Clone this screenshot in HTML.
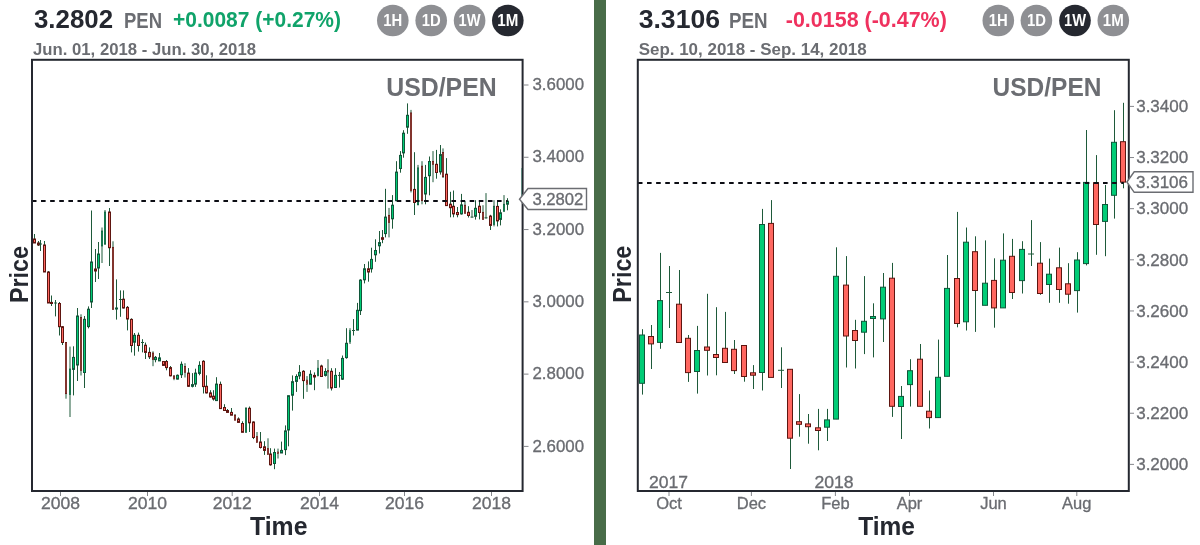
<!DOCTYPE html><html><head><meta charset="utf-8"><style>html,body{margin:0;padding:0;background:#fff;width:1200px;height:545px;overflow:hidden}svg{display:block;will-change:transform;font-family:"Liberation Sans",sans-serif}</style></head><body>
<svg width="1200" height="545" viewBox="0 0 1200 545">
<defs><clipPath id="cl"><rect x="33" y="61" width="489" height="429"/></clipPath><clipPath id="cr"><rect x="638.5" y="61" width="490" height="429"/></clipPath></defs>
<rect width="1200" height="545" fill="#fff"/>
<rect x="594" y="0" width="12" height="545" fill="#486c48"/>
<text x="34" y="28" font-size="25" fill="#252830" font-weight="bold" text-anchor="start" textLength="79" lengthAdjust="spacingAndGlyphs">3.2802</text>
<text x="124" y="28" font-size="21.5" fill="#6b6d72" font-weight="bold" text-anchor="start" textLength="38" lengthAdjust="spacingAndGlyphs">PEN</text>
<text x="173" y="26.7" font-size="21.5" fill="#10a36a" font-weight="bold" text-anchor="start" textLength="168" lengthAdjust="spacingAndGlyphs">+0.0087 (+0.27%)</text>
<text x="33" y="54.6" font-size="16.5" fill="#6b6d72" font-weight="bold" text-anchor="start" textLength="223" lengthAdjust="spacingAndGlyphs">Jun. 01, 2018 - Jun. 30, 2018</text>
<circle cx="392.8" cy="20.5" r="15.8" fill="#8e8f93"/>
<text x="392.8" y="26.3" font-size="16.5" fill="#ffffff" font-weight="bold" text-anchor="middle" textLength="19" lengthAdjust="spacingAndGlyphs">1H</text>
<circle cx="431.2" cy="20.5" r="15.8" fill="#8e8f93"/>
<text x="431.2" y="26.3" font-size="16.5" fill="#ffffff" font-weight="bold" text-anchor="middle" textLength="19" lengthAdjust="spacingAndGlyphs">1D</text>
<circle cx="469.6" cy="20.5" r="15.8" fill="#8e8f93"/>
<text x="469.6" y="26.3" font-size="16.5" fill="#ffffff" font-weight="bold" text-anchor="middle" textLength="22" lengthAdjust="spacingAndGlyphs">1W</text>
<circle cx="507.8" cy="20.5" r="15.8" fill="#252830"/>
<text x="507.8" y="26.3" font-size="16.5" fill="#ffffff" font-weight="bold" text-anchor="middle" textLength="21" lengthAdjust="spacingAndGlyphs">1M</text>
<text x="386.2" y="96.3" font-size="26" fill="#6b6d72" font-weight="bold" text-anchor="start" textLength="110.5" lengthAdjust="spacingAndGlyphs">USD/PEN</text>
<line x1="524" y1="85.00" x2="528.5" y2="85.00" stroke="#85878c" stroke-width="1"/>
<text x="532.5" y="90.2" font-size="16.5" fill="#6b6d72" font-weight="normal" text-anchor="start" textLength="51.5" lengthAdjust="spacingAndGlyphs" stroke="#65676c" stroke-width="0.3">3.6000</text>
<line x1="524" y1="157.28" x2="528.5" y2="157.28" stroke="#85878c" stroke-width="1"/>
<text x="532.5" y="162.48" font-size="16.5" fill="#6b6d72" font-weight="normal" text-anchor="start" textLength="51.5" lengthAdjust="spacingAndGlyphs" stroke="#65676c" stroke-width="0.3">3.4000</text>
<line x1="524" y1="229.56" x2="528.5" y2="229.56" stroke="#85878c" stroke-width="1"/>
<text x="532.5" y="234.76" font-size="16.5" fill="#6b6d72" font-weight="normal" text-anchor="start" textLength="51.5" lengthAdjust="spacingAndGlyphs" stroke="#65676c" stroke-width="0.3">3.2000</text>
<line x1="524" y1="301.84" x2="528.5" y2="301.84" stroke="#85878c" stroke-width="1"/>
<text x="532.5" y="307.04" font-size="16.5" fill="#6b6d72" font-weight="normal" text-anchor="start" textLength="51.5" lengthAdjust="spacingAndGlyphs" stroke="#65676c" stroke-width="0.3">3.0000</text>
<line x1="524" y1="374.12" x2="528.5" y2="374.12" stroke="#85878c" stroke-width="1"/>
<text x="532.5" y="379.32" font-size="16.5" fill="#6b6d72" font-weight="normal" text-anchor="start" textLength="51.5" lengthAdjust="spacingAndGlyphs" stroke="#65676c" stroke-width="0.3">2.8000</text>
<line x1="524" y1="446.40" x2="528.5" y2="446.40" stroke="#85878c" stroke-width="1"/>
<text x="532.5" y="451.59999999999997" font-size="16.5" fill="#6b6d72" font-weight="normal" text-anchor="start" textLength="51.5" lengthAdjust="spacingAndGlyphs" stroke="#65676c" stroke-width="0.3">2.6000</text>
<line x1="60.5" y1="492" x2="60.5" y2="496" stroke="#85878c" stroke-width="1"/>
<text x="60.5" y="509" font-size="16.5" fill="#6b6d72" font-weight="normal" text-anchor="middle" textLength="39" lengthAdjust="spacingAndGlyphs" stroke="#65676c" stroke-width="0.3">2008</text>
<line x1="147.5" y1="492" x2="147.5" y2="496" stroke="#85878c" stroke-width="1"/>
<text x="147.5" y="509" font-size="16.5" fill="#6b6d72" font-weight="normal" text-anchor="middle" textLength="39" lengthAdjust="spacingAndGlyphs" stroke="#65676c" stroke-width="0.3">2010</text>
<line x1="232.2" y1="492" x2="232.2" y2="496" stroke="#85878c" stroke-width="1"/>
<text x="232.2" y="509" font-size="16.5" fill="#6b6d72" font-weight="normal" text-anchor="middle" textLength="39" lengthAdjust="spacingAndGlyphs" stroke="#65676c" stroke-width="0.3">2012</text>
<line x1="319.5" y1="492" x2="319.5" y2="496" stroke="#85878c" stroke-width="1"/>
<text x="319.5" y="509" font-size="16.5" fill="#6b6d72" font-weight="normal" text-anchor="middle" textLength="39" lengthAdjust="spacingAndGlyphs" stroke="#65676c" stroke-width="0.3">2014</text>
<line x1="404.5" y1="492" x2="404.5" y2="496" stroke="#85878c" stroke-width="1"/>
<text x="404.5" y="509" font-size="16.5" fill="#6b6d72" font-weight="normal" text-anchor="middle" textLength="39" lengthAdjust="spacingAndGlyphs" stroke="#65676c" stroke-width="0.3">2016</text>
<line x1="491.5" y1="492" x2="491.5" y2="496" stroke="#85878c" stroke-width="1"/>
<text x="491.5" y="509" font-size="16.5" fill="#6b6d72" font-weight="normal" text-anchor="middle" textLength="39" lengthAdjust="spacingAndGlyphs" stroke="#65676c" stroke-width="0.3">2018</text>
<text x="250" y="535" font-size="25" fill="#252830" font-weight="bold" text-anchor="start" textLength="57.5" lengthAdjust="spacingAndGlyphs">Time</text>
<text x="0" y="0" font-size="25" fill="#252830" font-weight="bold" textLength="57" lengthAdjust="spacingAndGlyphs" transform="translate(27.5,303) rotate(-90)">Price</text>
<g clip-path="url(#cl)">
<line x1="34.5" y1="234" x2="34.5" y2="243" stroke="#1e5a3a" stroke-width="1"/>
<rect x="33.5" y="239" width="2" height="4.00" fill="#ff6760" stroke="#5e1510" stroke-width="1"/>
<line x1="38.5" y1="241" x2="38.5" y2="246" stroke="#1e5a3a" stroke-width="1"/>
<rect x="37.5" y="243" width="2" height="2.00" fill="#ff6760" stroke="#5e1510" stroke-width="1"/>
<line x1="40.5" y1="240" x2="40.5" y2="251" stroke="#1e5a3a" stroke-width="1"/>
<line x1="39" y1="244" x2="42" y2="244" stroke="#1e5a3a" stroke-width="1"/>
<line x1="44.5" y1="241" x2="44.5" y2="272" stroke="#1e5a3a" stroke-width="1"/>
<rect x="43.5" y="245" width="2" height="27.00" fill="#ff6760" stroke="#5e1510" stroke-width="1"/>
<line x1="48.5" y1="271" x2="48.5" y2="303" stroke="#1e5a3a" stroke-width="1"/>
<rect x="47.5" y="272" width="2" height="31.00" fill="#ff6760" stroke="#5e1510" stroke-width="1"/>
<line x1="51.5" y1="295.5" x2="51.5" y2="306" stroke="#1e5a3a" stroke-width="1"/>
<rect x="50.5" y="302.4" width="2" height="1.10" fill="#ff6760" stroke="#5e1510" stroke-width="1"/>
<line x1="55.5" y1="300" x2="55.5" y2="316.4" stroke="#1e5a3a" stroke-width="1"/>
<line x1="54" y1="303" x2="57" y2="303" stroke="#1e5a3a" stroke-width="1"/>
<line x1="59.5" y1="302" x2="59.5" y2="335.5" stroke="#1e5a3a" stroke-width="1"/>
<rect x="58.5" y="303.5" width="2" height="23.20" fill="#ff6760" stroke="#5e1510" stroke-width="1"/>
<line x1="62.5" y1="326" x2="62.5" y2="345" stroke="#1e5a3a" stroke-width="1"/>
<rect x="61.5" y="326.7" width="2" height="15.80" fill="#ff6760" stroke="#5e1510" stroke-width="1"/>
<line x1="66" y1="342" x2="66" y2="398.7" stroke="#1e5a3a" stroke-width="1"/>
<rect x="65.35" y="342.5" width="1.3" height="51.20" fill="#ff6760" stroke="#5e1510" stroke-width="0.7"/>
<line x1="70" y1="346.6" x2="70" y2="417" stroke="#1e5a3a" stroke-width="1"/>
<rect x="69.35" y="369" width="1.3" height="25.50" fill="#00cc76" stroke="#10573a" stroke-width="0.7"/>
<line x1="73.5" y1="346.3" x2="73.5" y2="395.4" stroke="#1e5a3a" stroke-width="1"/>
<rect x="72.5" y="357.4" width="2" height="12.00" fill="#00cc76" stroke="#10573a" stroke-width="1"/>
<line x1="77.5" y1="308" x2="77.5" y2="381" stroke="#1e5a3a" stroke-width="1"/>
<rect x="76.5" y="316" width="2" height="49.00" fill="#00cc76" stroke="#10573a" stroke-width="1"/>
<line x1="81" y1="314.3" x2="81" y2="375.5" stroke="#1e5a3a" stroke-width="1"/>
<rect x="80.35" y="317.4" width="1.3" height="53.20" fill="#ff6760" stroke="#5e1510" stroke-width="0.7"/>
<line x1="84.5" y1="316" x2="84.5" y2="388" stroke="#1e5a3a" stroke-width="1"/>
<rect x="83.5" y="319.3" width="2" height="53.20" fill="#00cc76" stroke="#10573a" stroke-width="1"/>
<line x1="88.5" y1="306.4" x2="88.5" y2="328.4" stroke="#1e5a3a" stroke-width="1"/>
<rect x="87.5" y="309.2" width="2" height="17.40" fill="#00cc76" stroke="#10573a" stroke-width="1"/>
<line x1="91.5" y1="210.5" x2="91.5" y2="308" stroke="#1e5a3a" stroke-width="1"/>
<rect x="90.5" y="262" width="2" height="40.00" fill="#00cc76" stroke="#10573a" stroke-width="1"/>
<line x1="95.5" y1="249" x2="95.5" y2="282" stroke="#1e5a3a" stroke-width="1"/>
<rect x="94.5" y="269" width="2" height="2.00" fill="#ff6760" stroke="#5e1510" stroke-width="1"/>
<line x1="98.5" y1="242" x2="98.5" y2="279" stroke="#1e5a3a" stroke-width="1"/>
<rect x="97.5" y="254" width="2" height="14.00" fill="#00cc76" stroke="#10573a" stroke-width="1"/>
<line x1="102" y1="227.5" x2="102" y2="263" stroke="#1e5a3a" stroke-width="1"/>
<rect x="101.35" y="231" width="1.3" height="15.00" fill="#00cc76" stroke="#10573a" stroke-width="0.7"/>
<line x1="105" y1="210" x2="105" y2="245" stroke="#1e5a3a" stroke-width="1"/>
<rect x="104.35" y="212" width="1.3" height="32.00" fill="#00cc76" stroke="#10573a" stroke-width="0.7"/>
<line x1="109.5" y1="208" x2="109.5" y2="266" stroke="#1e5a3a" stroke-width="1"/>
<rect x="108.5" y="212" width="2" height="35.70" fill="#ff6760" stroke="#5e1510" stroke-width="1"/>
<line x1="113" y1="241.3" x2="113" y2="309.4" stroke="#1e5a3a" stroke-width="1"/>
<rect x="112.35" y="247.3" width="1.3" height="62.10" fill="#ff6760" stroke="#5e1510" stroke-width="0.7"/>
<line x1="116.5" y1="279.4" x2="116.5" y2="319.6" stroke="#1e5a3a" stroke-width="1"/>
<rect x="115.5" y="308" width="2" height="1.00" fill="#00cc76" stroke="#10573a" stroke-width="1"/>
<line x1="120.5" y1="290.4" x2="120.5" y2="316.8" stroke="#1e5a3a" stroke-width="1"/>
<line x1="119" y1="299.5" x2="122" y2="299.5" stroke="#1e5a3a" stroke-width="1"/>
<line x1="123.5" y1="290.4" x2="123.5" y2="308.5" stroke="#1e5a3a" stroke-width="1"/>
<rect x="122.5" y="299.2" width="2" height="8.80" fill="#ff6760" stroke="#5e1510" stroke-width="1"/>
<line x1="127.5" y1="306" x2="127.5" y2="330.4" stroke="#1e5a3a" stroke-width="1"/>
<rect x="126.5" y="307.4" width="2" height="11.60" fill="#ff6760" stroke="#5e1510" stroke-width="1"/>
<line x1="131.5" y1="318.3" x2="131.5" y2="352.4" stroke="#1e5a3a" stroke-width="1"/>
<rect x="130.5" y="319.4" width="2" height="26.10" fill="#ff6760" stroke="#5e1510" stroke-width="1"/>
<line x1="134.5" y1="333" x2="134.5" y2="355.7" stroke="#1e5a3a" stroke-width="1"/>
<rect x="133.5" y="335.3" width="2" height="6.90" fill="#00cc76" stroke="#10573a" stroke-width="1"/>
<line x1="138.5" y1="332.6" x2="138.5" y2="351.6" stroke="#1e5a3a" stroke-width="1"/>
<rect x="137.5" y="335.3" width="2" height="10.20" fill="#ff6760" stroke="#5e1510" stroke-width="1"/>
<line x1="142.5" y1="339.2" x2="142.5" y2="352.4" stroke="#1e5a3a" stroke-width="1"/>
<line x1="141" y1="342.5" x2="144" y2="342.5" stroke="#1e5a3a" stroke-width="1"/>
<line x1="145.5" y1="342.5" x2="145.5" y2="359" stroke="#1e5a3a" stroke-width="1"/>
<rect x="144.5" y="345.2" width="2" height="7.20" fill="#ff6760" stroke="#5e1510" stroke-width="1"/>
<line x1="149.5" y1="347.4" x2="149.5" y2="359" stroke="#1e5a3a" stroke-width="1"/>
<rect x="148.5" y="352.4" width="2" height="4.40" fill="#ff6760" stroke="#5e1510" stroke-width="1"/>
<line x1="153" y1="351.3" x2="153" y2="366.2" stroke="#1e5a3a" stroke-width="1"/>
<rect x="152.35" y="353" width="1.3" height="6.60" fill="#ff6760" stroke="#5e1510" stroke-width="0.7"/>
<line x1="155.5" y1="356" x2="155.5" y2="362.3" stroke="#1e5a3a" stroke-width="1"/>
<rect x="154.5" y="357.4" width="2" height="2.20" fill="#00cc76" stroke="#10573a" stroke-width="1"/>
<line x1="159.5" y1="353" x2="159.5" y2="361" stroke="#1e5a3a" stroke-width="1"/>
<rect x="158.5" y="357.9" width="2" height="3.00" fill="#00cc76" stroke="#10573a" stroke-width="1"/>
<line x1="163.5" y1="361" x2="163.5" y2="366" stroke="#1e5a3a" stroke-width="1"/>
<rect x="162.5" y="361.5" width="2" height="3.90" fill="#ff6760" stroke="#5e1510" stroke-width="1"/>
<line x1="166.5" y1="360" x2="166.5" y2="370.3" stroke="#1e5a3a" stroke-width="1"/>
<rect x="165.5" y="361.5" width="2" height="6.10" fill="#ff6760" stroke="#5e1510" stroke-width="1"/>
<line x1="170.5" y1="366" x2="170.5" y2="376.4" stroke="#1e5a3a" stroke-width="1"/>
<rect x="169.5" y="367.6" width="2" height="8.20" fill="#ff6760" stroke="#5e1510" stroke-width="1"/>
<line x1="174" y1="375" x2="174" y2="380.2" stroke="#1e5a3a" stroke-width="1"/>
<rect x="173.35" y="376" width="1.3" height="2.60" fill="#ff6760" stroke="#5e1510" stroke-width="0.7"/>
<line x1="177.5" y1="374.5" x2="177.5" y2="379.4" stroke="#1e5a3a" stroke-width="1"/>
<rect x="176.5" y="375.3" width="2" height="3.80" fill="#00cc76" stroke="#10573a" stroke-width="1"/>
<line x1="181.5" y1="361.5" x2="181.5" y2="378" stroke="#1e5a3a" stroke-width="1"/>
<rect x="180.5" y="364.3" width="2" height="10.40" fill="#00cc76" stroke="#10573a" stroke-width="1"/>
<line x1="185" y1="363.2" x2="185" y2="377.5" stroke="#1e5a3a" stroke-width="1"/>
<rect x="184.35" y="366.5" width="1.3" height="5.80" fill="#ff6760" stroke="#5e1510" stroke-width="0.7"/>
<line x1="188.5" y1="368.1" x2="188.5" y2="387" stroke="#1e5a3a" stroke-width="1"/>
<rect x="187.5" y="373.1" width="2" height="13.20" fill="#ff6760" stroke="#5e1510" stroke-width="1"/>
<line x1="192.5" y1="373.1" x2="192.5" y2="387.4" stroke="#1e5a3a" stroke-width="1"/>
<rect x="191.5" y="384.6" width="2" height="1.70" fill="#00cc76" stroke="#10573a" stroke-width="1"/>
<line x1="195.5" y1="368.7" x2="195.5" y2="386.9" stroke="#1e5a3a" stroke-width="1"/>
<rect x="194.5" y="373.1" width="2" height="11.00" fill="#00cc76" stroke="#10573a" stroke-width="1"/>
<line x1="199.5" y1="361.3" x2="199.5" y2="375.3" stroke="#1e5a3a" stroke-width="1"/>
<rect x="198.5" y="365.4" width="2" height="8.00" fill="#00cc76" stroke="#10573a" stroke-width="1"/>
<line x1="203.5" y1="360.2" x2="203.5" y2="393.5" stroke="#1e5a3a" stroke-width="1"/>
<rect x="202.5" y="361.3" width="2" height="25.30" fill="#ff6760" stroke="#5e1510" stroke-width="1"/>
<line x1="206.5" y1="375.3" x2="206.5" y2="393.5" stroke="#1e5a3a" stroke-width="1"/>
<rect x="205.5" y="386.3" width="2" height="6.60" fill="#ff6760" stroke="#5e1510" stroke-width="1"/>
<line x1="210.5" y1="390.2" x2="210.5" y2="397.6" stroke="#1e5a3a" stroke-width="1"/>
<rect x="209.5" y="392.9" width="2" height="4.10" fill="#ff6760" stroke="#5e1510" stroke-width="1"/>
<line x1="213.5" y1="390.2" x2="213.5" y2="400.6" stroke="#1e5a3a" stroke-width="1"/>
<rect x="212.5" y="396.2" width="2" height="2.80" fill="#ff6760" stroke="#5e1510" stroke-width="1"/>
<line x1="216.5" y1="377.2" x2="216.5" y2="401" stroke="#1e5a3a" stroke-width="1"/>
<rect x="215.5" y="384.1" width="2" height="16.50" fill="#00cc76" stroke="#10573a" stroke-width="1"/>
<line x1="220.5" y1="381.6" x2="220.5" y2="408.6" stroke="#1e5a3a" stroke-width="1"/>
<rect x="219.5" y="384.4" width="2" height="24.20" fill="#ff6760" stroke="#5e1510" stroke-width="1"/>
<line x1="224.5" y1="404.2" x2="224.5" y2="410.5" stroke="#1e5a3a" stroke-width="1"/>
<rect x="223.5" y="407.5" width="2" height="3.00" fill="#ff6760" stroke="#5e1510" stroke-width="1"/>
<line x1="227.5" y1="409" x2="227.5" y2="412.4" stroke="#1e5a3a" stroke-width="1"/>
<rect x="226.5" y="410.5" width="2" height="1.90" fill="#ff6760" stroke="#5e1510" stroke-width="1"/>
<line x1="231.5" y1="408" x2="231.5" y2="415.2" stroke="#1e5a3a" stroke-width="1"/>
<rect x="230.5" y="412.4" width="2" height="2.80" fill="#ff6760" stroke="#5e1510" stroke-width="1"/>
<line x1="235" y1="414" x2="235" y2="420.2" stroke="#1e5a3a" stroke-width="1"/>
<rect x="234.35" y="415.2" width="1.3" height="5.00" fill="#ff6760" stroke="#5e1510" stroke-width="0.7"/>
<line x1="238.5" y1="417.4" x2="238.5" y2="422.4" stroke="#1e5a3a" stroke-width="1"/>
<rect x="237.5" y="419" width="2" height="3.40" fill="#ff6760" stroke="#5e1510" stroke-width="1"/>
<line x1="242.5" y1="421.3" x2="242.5" y2="432.3" stroke="#1e5a3a" stroke-width="1"/>
<rect x="241.5" y="423.5" width="2" height="8.80" fill="#ff6760" stroke="#5e1510" stroke-width="1"/>
<line x1="246" y1="407" x2="246" y2="432.3" stroke="#1e5a3a" stroke-width="1"/>
<rect x="245.35" y="408.6" width="1.3" height="23.70" fill="#00cc76" stroke="#10573a" stroke-width="0.7"/>
<line x1="249.5" y1="406.5" x2="249.5" y2="432" stroke="#1e5a3a" stroke-width="1"/>
<rect x="248.5" y="408.3" width="2" height="14.50" fill="#ff6760" stroke="#5e1510" stroke-width="1"/>
<line x1="253.5" y1="421.3" x2="253.5" y2="439.1" stroke="#1e5a3a" stroke-width="1"/>
<rect x="252.5" y="422" width="2" height="15.50" fill="#ff6760" stroke="#5e1510" stroke-width="1"/>
<line x1="257" y1="432" x2="257" y2="442.4" stroke="#1e5a3a" stroke-width="1"/>
<rect x="256.35" y="436.4" width="1.3" height="6.00" fill="#ff6760" stroke="#5e1510" stroke-width="0.7"/>
<line x1="260.5" y1="432" x2="260.5" y2="448.5" stroke="#1e5a3a" stroke-width="1"/>
<rect x="259.5" y="442" width="2" height="5.50" fill="#ff6760" stroke="#5e1510" stroke-width="1"/>
<line x1="264.5" y1="441.2" x2="264.5" y2="454.9" stroke="#1e5a3a" stroke-width="1"/>
<rect x="263.5" y="446.8" width="2" height="3.60" fill="#ff6760" stroke="#5e1510" stroke-width="1"/>
<line x1="268" y1="438.3" x2="268" y2="454.6" stroke="#1e5a3a" stroke-width="1"/>
<rect x="267.35" y="448.6" width="1.3" height="5.90" fill="#ff6760" stroke="#5e1510" stroke-width="0.7"/>
<line x1="270.5" y1="448.2" x2="270.5" y2="465.7" stroke="#1e5a3a" stroke-width="1"/>
<rect x="269.5" y="454" width="2" height="10.80" fill="#ff6760" stroke="#5e1510" stroke-width="1"/>
<line x1="274.5" y1="448.6" x2="274.5" y2="469.2" stroke="#1e5a3a" stroke-width="1"/>
<rect x="273.5" y="452.5" width="2" height="11.00" fill="#00cc76" stroke="#10573a" stroke-width="1"/>
<line x1="278" y1="448.6" x2="278" y2="458.5" stroke="#1e5a3a" stroke-width="1"/>
<rect x="277.35" y="452" width="1.3" height="1.40" fill="#ff6760" stroke="#5e1510" stroke-width="0.7"/>
<line x1="281.5" y1="441.6" x2="281.5" y2="453" stroke="#1e5a3a" stroke-width="1"/>
<rect x="280.5" y="450.4" width="2" height="2.60" fill="#00cc76" stroke="#10573a" stroke-width="1"/>
<line x1="285.5" y1="425.4" x2="285.5" y2="455.1" stroke="#1e5a3a" stroke-width="1"/>
<rect x="284.5" y="430.9" width="2" height="18.70" fill="#00cc76" stroke="#10573a" stroke-width="1"/>
<line x1="288.5" y1="395.7" x2="288.5" y2="446.3" stroke="#1e5a3a" stroke-width="1"/>
<rect x="287.5" y="395.7" width="2" height="34.30" fill="#00cc76" stroke="#10573a" stroke-width="1"/>
<line x1="292.5" y1="375.4" x2="292.5" y2="410.6" stroke="#1e5a3a" stroke-width="1"/>
<rect x="291.5" y="381.7" width="2" height="13.50" fill="#00cc76" stroke="#10573a" stroke-width="1"/>
<line x1="296.5" y1="374.3" x2="296.5" y2="391.9" stroke="#1e5a3a" stroke-width="1"/>
<rect x="295.5" y="376.5" width="2" height="4.90" fill="#00cc76" stroke="#10573a" stroke-width="1"/>
<line x1="299.5" y1="365.1" x2="299.5" y2="379.2" stroke="#1e5a3a" stroke-width="1"/>
<rect x="298.5" y="372.4" width="2" height="3.50" fill="#00cc76" stroke="#10573a" stroke-width="1"/>
<line x1="303.5" y1="370.2" x2="303.5" y2="398.8" stroke="#1e5a3a" stroke-width="1"/>
<rect x="302.5" y="371.3" width="2" height="9.30" fill="#ff6760" stroke="#5e1510" stroke-width="1"/>
<line x1="307" y1="376.1" x2="307" y2="391.9" stroke="#1e5a3a" stroke-width="1"/>
<rect x="306.35" y="380.1" width="1.3" height="4.10" fill="#ff6760" stroke="#5e1510" stroke-width="0.7"/>
<line x1="310.5" y1="370.2" x2="310.5" y2="384.2" stroke="#1e5a3a" stroke-width="1"/>
<rect x="309.5" y="374.3" width="2" height="9.90" fill="#00cc76" stroke="#10573a" stroke-width="1"/>
<line x1="314.5" y1="372.4" x2="314.5" y2="390.2" stroke="#1e5a3a" stroke-width="1"/>
<rect x="313.5" y="375.4" width="2" height="1.60" fill="#ff6760" stroke="#5e1510" stroke-width="1"/>
<line x1="318" y1="360" x2="318" y2="375.9" stroke="#1e5a3a" stroke-width="1"/>
<rect x="317.35" y="368.2" width="1.3" height="7.70" fill="#00cc76" stroke="#10573a" stroke-width="0.7"/>
<line x1="321.5" y1="364.7" x2="321.5" y2="376.5" stroke="#1e5a3a" stroke-width="1"/>
<rect x="320.5" y="366" width="2" height="10.50" fill="#ff6760" stroke="#5e1510" stroke-width="1"/>
<line x1="325.5" y1="368.2" x2="325.5" y2="376.5" stroke="#1e5a3a" stroke-width="1"/>
<rect x="324.5" y="371.5" width="2" height="3.90" fill="#00cc76" stroke="#10573a" stroke-width="1"/>
<line x1="328" y1="359.2" x2="328" y2="388.6" stroke="#1e5a3a" stroke-width="1"/>
<rect x="327.35" y="370.4" width="1.3" height="1.60" fill="#ff6760" stroke="#5e1510" stroke-width="0.7"/>
<line x1="331.5" y1="368.2" x2="331.5" y2="390.5" stroke="#1e5a3a" stroke-width="1"/>
<rect x="330.5" y="371.3" width="2" height="16.70" fill="#ff6760" stroke="#5e1510" stroke-width="1"/>
<line x1="335.5" y1="368.2" x2="335.5" y2="387.5" stroke="#1e5a3a" stroke-width="1"/>
<rect x="334.5" y="375.4" width="2" height="12.10" fill="#00cc76" stroke="#10573a" stroke-width="1"/>
<line x1="339.5" y1="372" x2="339.5" y2="387.5" stroke="#1e5a3a" stroke-width="1"/>
<line x1="338" y1="375.4" x2="341" y2="375.4" stroke="#1e5a3a" stroke-width="1"/>
<line x1="342.5" y1="355.5" x2="342.5" y2="380" stroke="#1e5a3a" stroke-width="1"/>
<rect x="341.5" y="358.4" width="2" height="20.80" fill="#00cc76" stroke="#10573a" stroke-width="1"/>
<line x1="346.5" y1="328.2" x2="346.5" y2="358.7" stroke="#1e5a3a" stroke-width="1"/>
<rect x="345.5" y="343.3" width="2" height="14.30" fill="#00cc76" stroke="#10573a" stroke-width="1"/>
<line x1="350" y1="328.2" x2="350" y2="344" stroke="#1e5a3a" stroke-width="1"/>
<rect x="349.35" y="330.8" width="1.3" height="11.10" fill="#00cc76" stroke="#10573a" stroke-width="0.7"/>
<line x1="353.5" y1="319.1" x2="353.5" y2="335.5" stroke="#1e5a3a" stroke-width="1"/>
<line x1="352" y1="330.5" x2="355" y2="330.5" stroke="#1e5a3a" stroke-width="1"/>
<line x1="357.5" y1="302.9" x2="357.5" y2="330.1" stroke="#1e5a3a" stroke-width="1"/>
<rect x="356.5" y="310.3" width="2" height="19.80" fill="#00cc76" stroke="#10573a" stroke-width="1"/>
<line x1="360.5" y1="279.2" x2="360.5" y2="315" stroke="#1e5a3a" stroke-width="1"/>
<rect x="359.5" y="280.1" width="2" height="30.50" fill="#00cc76" stroke="#10573a" stroke-width="1"/>
<line x1="364.5" y1="264" x2="364.5" y2="283.4" stroke="#1e5a3a" stroke-width="1"/>
<rect x="363.5" y="268.8" width="2" height="11.00" fill="#00cc76" stroke="#10573a" stroke-width="1"/>
<line x1="368.5" y1="261.4" x2="368.5" y2="281.7" stroke="#1e5a3a" stroke-width="1"/>
<rect x="367.5" y="268.8" width="2" height="3.20" fill="#ff6760" stroke="#5e1510" stroke-width="1"/>
<line x1="371.5" y1="247.7" x2="371.5" y2="272.6" stroke="#1e5a3a" stroke-width="1"/>
<rect x="370.5" y="259.4" width="2" height="9.40" fill="#00cc76" stroke="#10573a" stroke-width="1"/>
<line x1="375.5" y1="239.3" x2="375.5" y2="261.8" stroke="#1e5a3a" stroke-width="1"/>
<rect x="374.5" y="250.5" width="2" height="4.30" fill="#00cc76" stroke="#10573a" stroke-width="1"/>
<line x1="379.5" y1="231" x2="379.5" y2="253.5" stroke="#1e5a3a" stroke-width="1"/>
<rect x="378.5" y="242.6" width="2" height="3.20" fill="#00cc76" stroke="#10573a" stroke-width="1"/>
<line x1="382.5" y1="230" x2="382.5" y2="243.2" stroke="#1e5a3a" stroke-width="1"/>
<rect x="381.5" y="237.7" width="2" height="1.60" fill="#ff6760" stroke="#5e1510" stroke-width="1"/>
<line x1="385.5" y1="188.8" x2="385.5" y2="237.4" stroke="#1e5a3a" stroke-width="1"/>
<rect x="384.5" y="217.1" width="2" height="16.50" fill="#00cc76" stroke="#10573a" stroke-width="1"/>
<line x1="389" y1="207.9" x2="389" y2="237.4" stroke="#1e5a3a" stroke-width="1"/>
<rect x="388.35" y="215.3" width="1.3" height="7.30" fill="#ff6760" stroke="#5e1510" stroke-width="0.7"/>
<line x1="392.5" y1="195.1" x2="392.5" y2="228.7" stroke="#1e5a3a" stroke-width="1"/>
<rect x="391.5" y="205.2" width="2" height="13.60" fill="#00cc76" stroke="#10573a" stroke-width="1"/>
<line x1="396.5" y1="161.2" x2="396.5" y2="200.7" stroke="#1e5a3a" stroke-width="1"/>
<rect x="395.5" y="172.1" width="2" height="28.60" fill="#00cc76" stroke="#10573a" stroke-width="1"/>
<line x1="400.5" y1="151.1" x2="400.5" y2="172.7" stroke="#1e5a3a" stroke-width="1"/>
<rect x="399.5" y="155.4" width="2" height="13.10" fill="#00cc76" stroke="#10573a" stroke-width="1"/>
<line x1="403.5" y1="130.2" x2="403.5" y2="157.7" stroke="#1e5a3a" stroke-width="1"/>
<rect x="402.5" y="133.2" width="2" height="19.70" fill="#00cc76" stroke="#10573a" stroke-width="1"/>
<line x1="407.5" y1="103.4" x2="407.5" y2="133.8" stroke="#1e5a3a" stroke-width="1"/>
<rect x="406.5" y="115.3" width="2" height="11.90" fill="#00cc76" stroke="#10573a" stroke-width="1"/>
<line x1="411" y1="109.9" x2="411" y2="192.4" stroke="#1e5a3a" stroke-width="1"/>
<rect x="410.35" y="112.9" width="1.3" height="77.70" fill="#ff6760" stroke="#5e1510" stroke-width="0.7"/>
<line x1="414.5" y1="152.2" x2="414.5" y2="215" stroke="#1e5a3a" stroke-width="1"/>
<rect x="413.5" y="189.4" width="2" height="13.10" fill="#ff6760" stroke="#5e1510" stroke-width="1"/>
<line x1="418" y1="164.9" x2="418" y2="205" stroke="#1e5a3a" stroke-width="1"/>
<rect x="417.35" y="167.9" width="1.3" height="37.00" fill="#00cc76" stroke="#10573a" stroke-width="0.7"/>
<line x1="422" y1="161.2" x2="422" y2="204.3" stroke="#1e5a3a" stroke-width="1"/>
<rect x="421.35" y="166.1" width="1.3" height="34.60" fill="#ff6760" stroke="#5e1510" stroke-width="0.7"/>
<line x1="425.5" y1="164.9" x2="425.5" y2="204.3" stroke="#1e5a3a" stroke-width="1"/>
<rect x="424.5" y="177.4" width="2" height="16.60" fill="#00cc76" stroke="#10573a" stroke-width="1"/>
<line x1="429.5" y1="156.5" x2="429.5" y2="195.3" stroke="#1e5a3a" stroke-width="1"/>
<rect x="428.5" y="161.5" width="2" height="14.20" fill="#00cc76" stroke="#10573a" stroke-width="1"/>
<line x1="433" y1="151.1" x2="433" y2="182.2" stroke="#1e5a3a" stroke-width="1"/>
<rect x="432.35" y="161.3" width="1.3" height="3.00" fill="#ff6760" stroke="#5e1510" stroke-width="0.7"/>
<line x1="436.5" y1="149.9" x2="436.5" y2="178.7" stroke="#1e5a3a" stroke-width="1"/>
<rect x="435.5" y="164.3" width="2" height="8.20" fill="#ff6760" stroke="#5e1510" stroke-width="1"/>
<line x1="440.5" y1="145" x2="440.5" y2="174.6" stroke="#1e5a3a" stroke-width="1"/>
<rect x="439.5" y="154.6" width="2" height="17.30" fill="#00cc76" stroke="#10573a" stroke-width="1"/>
<line x1="443" y1="148.4" x2="443" y2="178" stroke="#1e5a3a" stroke-width="1"/>
<rect x="442.35" y="152.6" width="1.3" height="24.10" fill="#ff6760" stroke="#5e1510" stroke-width="0.7"/>
<line x1="446.5" y1="158.1" x2="446.5" y2="205.6" stroke="#1e5a3a" stroke-width="1"/>
<rect x="445.5" y="174.2" width="2" height="31.40" fill="#ff6760" stroke="#5e1510" stroke-width="1"/>
<line x1="450.5" y1="191.8" x2="450.5" y2="217.3" stroke="#1e5a3a" stroke-width="1"/>
<rect x="449.5" y="204.2" width="2" height="3.50" fill="#ff6760" stroke="#5e1510" stroke-width="1"/>
<line x1="453.5" y1="190.5" x2="453.5" y2="217.3" stroke="#1e5a3a" stroke-width="1"/>
<rect x="452.5" y="206.3" width="2" height="7.60" fill="#ff6760" stroke="#5e1510" stroke-width="1"/>
<line x1="457.5" y1="207" x2="457.5" y2="217.3" stroke="#1e5a3a" stroke-width="1"/>
<rect x="456.5" y="212.5" width="2" height="2.10" fill="#ff6760" stroke="#5e1510" stroke-width="1"/>
<line x1="461.5" y1="193.9" x2="461.5" y2="214.6" stroke="#1e5a3a" stroke-width="1"/>
<rect x="460.5" y="204.9" width="2" height="9.00" fill="#00cc76" stroke="#10573a" stroke-width="1"/>
<line x1="465" y1="201" x2="465" y2="213.3" stroke="#1e5a3a" stroke-width="1"/>
<rect x="464.35" y="205.2" width="1.3" height="8.10" fill="#ff6760" stroke="#5e1510" stroke-width="0.7"/>
<line x1="468.5" y1="206.2" x2="468.5" y2="217.5" stroke="#1e5a3a" stroke-width="1"/>
<rect x="467.5" y="212.3" width="2" height="3.20" fill="#ff6760" stroke="#5e1510" stroke-width="1"/>
<line x1="472" y1="210" x2="472" y2="217.5" stroke="#1e5a3a" stroke-width="1"/>
<line x1="470.5" y1="217.1" x2="473.5" y2="217.1" stroke="#1e5a3a" stroke-width="1"/>
<line x1="475.5" y1="200.2" x2="475.5" y2="219.6" stroke="#1e5a3a" stroke-width="1"/>
<rect x="474.5" y="208.3" width="2" height="8.00" fill="#00cc76" stroke="#10573a" stroke-width="1"/>
<line x1="479.5" y1="201.7" x2="479.5" y2="219.4" stroke="#1e5a3a" stroke-width="1"/>
<rect x="478.5" y="206.2" width="2" height="6.30" fill="#ff6760" stroke="#5e1510" stroke-width="1"/>
<line x1="483" y1="205.2" x2="483" y2="219.4" stroke="#1e5a3a" stroke-width="1"/>
<rect x="482.35" y="212.3" width="1.3" height="7.10" fill="#ff6760" stroke="#5e1510" stroke-width="0.7"/>
<line x1="486" y1="193.1" x2="486" y2="218.8" stroke="#1e5a3a" stroke-width="1"/>
<line x1="484.5" y1="217.8" x2="487.5" y2="217.8" stroke="#1e5a3a" stroke-width="1"/>
<line x1="490.5" y1="214.8" x2="490.5" y2="230" stroke="#1e5a3a" stroke-width="1"/>
<rect x="489.5" y="216.1" width="2" height="9.30" fill="#ff6760" stroke="#5e1510" stroke-width="1"/>
<line x1="494" y1="200.2" x2="494" y2="226.4" stroke="#1e5a3a" stroke-width="1"/>
<rect x="493.35" y="206.2" width="1.3" height="18.20" fill="#00cc76" stroke="#10573a" stroke-width="0.7"/>
<line x1="497.5" y1="201.7" x2="497.5" y2="226.4" stroke="#1e5a3a" stroke-width="1"/>
<rect x="496.5" y="206.4" width="2" height="14.50" fill="#ff6760" stroke="#5e1510" stroke-width="1"/>
<line x1="500.5" y1="209.3" x2="500.5" y2="225.4" stroke="#1e5a3a" stroke-width="1"/>
<rect x="499.5" y="212.8" width="2" height="6.60" fill="#00cc76" stroke="#10573a" stroke-width="1"/>
<line x1="504" y1="195.1" x2="504" y2="211.3" stroke="#1e5a3a" stroke-width="1"/>
<rect x="503.35" y="204.2" width="1.3" height="7.10" fill="#00cc76" stroke="#10573a" stroke-width="0.7"/>
<line x1="507.5" y1="198.2" x2="507.5" y2="210.3" stroke="#1e5a3a" stroke-width="1"/>
<rect x="506.5" y="201.2" width="2" height="3.00" fill="#00cc76" stroke="#10573a" stroke-width="1"/>
</g>
<line x1="521.6" y1="168" x2="521.6" y2="197" stroke="#5fb89a" stroke-width="0.8"/>
<line x1="31.9" y1="201" x2="507.5" y2="201" stroke="#0c0d14" stroke-width="2" stroke-dasharray="4.6 4.52"/>
<rect x="32" y="59.8" width="490.6" height="431.2" fill="none" stroke="#252830" stroke-width="2"/>
<polygon points="519.5,199.3 528,188.5 586.5,188.5 586.5,209.5 528,209.5" fill="#fff" stroke="#6b6d72" stroke-width="1.4"/>
<text x="532.4" y="204.6" font-size="16.5" fill="#6b6d72" font-weight="normal" text-anchor="start" textLength="51" lengthAdjust="spacingAndGlyphs" stroke="#65676c" stroke-width="0.3">3.2802</text>
<text x="638.7" y="28" font-size="25" fill="#252830" font-weight="bold" text-anchor="start" textLength="81.3" lengthAdjust="spacingAndGlyphs">3.3106</text>
<text x="729" y="28" font-size="21.5" fill="#6b6d72" font-weight="bold" text-anchor="start" textLength="38.6" lengthAdjust="spacingAndGlyphs">PEN</text>
<text x="785.8" y="26.7" font-size="21.5" fill="#ef315e" font-weight="bold" text-anchor="start" textLength="161" lengthAdjust="spacingAndGlyphs">-0.0158 (-0.47%)</text>
<text x="638.7" y="54.6" font-size="16.5" fill="#6b6d72" font-weight="bold" text-anchor="start" textLength="228" lengthAdjust="spacingAndGlyphs">Sep. 10, 2018 - Sep. 14, 2018</text>
<circle cx="998.3" cy="20.5" r="15.8" fill="#8e8f93"/>
<text x="998.3" y="26.3" font-size="16.5" fill="#ffffff" font-weight="bold" text-anchor="middle" textLength="19" lengthAdjust="spacingAndGlyphs">1H</text>
<circle cx="1036.4" cy="20.5" r="15.8" fill="#8e8f93"/>
<text x="1036.4" y="26.3" font-size="16.5" fill="#ffffff" font-weight="bold" text-anchor="middle" textLength="19" lengthAdjust="spacingAndGlyphs">1D</text>
<circle cx="1075" cy="20.5" r="15.8" fill="#252830"/>
<text x="1075" y="26.3" font-size="16.5" fill="#ffffff" font-weight="bold" text-anchor="middle" textLength="22" lengthAdjust="spacingAndGlyphs">1W</text>
<circle cx="1113.3" cy="20.5" r="15.8" fill="#8e8f93"/>
<text x="1113.3" y="26.3" font-size="16.5" fill="#ffffff" font-weight="bold" text-anchor="middle" textLength="21" lengthAdjust="spacingAndGlyphs">1M</text>
<text x="992.6" y="96.3" font-size="26" fill="#6b6d72" font-weight="bold" text-anchor="start" textLength="108.8" lengthAdjust="spacingAndGlyphs">USD/PEN</text>
<line x1="1130" y1="106.40" x2="1134" y2="106.40" stroke="#85878c" stroke-width="1"/>
<text x="1136.2" y="112.10000000000001" font-size="16.5" fill="#6b6d72" font-weight="normal" text-anchor="start" textLength="52" lengthAdjust="spacingAndGlyphs" stroke="#65676c" stroke-width="0.3">3.3400</text>
<line x1="1130" y1="157.54" x2="1134" y2="157.54" stroke="#85878c" stroke-width="1"/>
<text x="1136.2" y="163.24" font-size="16.5" fill="#6b6d72" font-weight="normal" text-anchor="start" textLength="52" lengthAdjust="spacingAndGlyphs" stroke="#65676c" stroke-width="0.3">3.3200</text>
<line x1="1130" y1="208.68" x2="1134" y2="208.68" stroke="#85878c" stroke-width="1"/>
<text x="1136.2" y="214.38" font-size="16.5" fill="#6b6d72" font-weight="normal" text-anchor="start" textLength="52" lengthAdjust="spacingAndGlyphs" stroke="#65676c" stroke-width="0.3">3.3000</text>
<line x1="1130" y1="259.82" x2="1134" y2="259.82" stroke="#85878c" stroke-width="1"/>
<text x="1136.2" y="265.52000000000004" font-size="16.5" fill="#6b6d72" font-weight="normal" text-anchor="start" textLength="52" lengthAdjust="spacingAndGlyphs" stroke="#65676c" stroke-width="0.3">3.2800</text>
<line x1="1130" y1="310.96" x2="1134" y2="310.96" stroke="#85878c" stroke-width="1"/>
<text x="1136.2" y="316.66" font-size="16.5" fill="#6b6d72" font-weight="normal" text-anchor="start" textLength="52" lengthAdjust="spacingAndGlyphs" stroke="#65676c" stroke-width="0.3">3.2600</text>
<line x1="1130" y1="362.10" x2="1134" y2="362.10" stroke="#85878c" stroke-width="1"/>
<text x="1136.2" y="367.8" font-size="16.5" fill="#6b6d72" font-weight="normal" text-anchor="start" textLength="52" lengthAdjust="spacingAndGlyphs" stroke="#65676c" stroke-width="0.3">3.2400</text>
<line x1="1130" y1="413.24" x2="1134" y2="413.24" stroke="#85878c" stroke-width="1"/>
<text x="1136.2" y="418.94" font-size="16.5" fill="#6b6d72" font-weight="normal" text-anchor="start" textLength="52" lengthAdjust="spacingAndGlyphs" stroke="#65676c" stroke-width="0.3">3.2200</text>
<line x1="1130" y1="464.38" x2="1134" y2="464.38" stroke="#85878c" stroke-width="1"/>
<text x="1136.2" y="470.08" font-size="16.5" fill="#6b6d72" font-weight="normal" text-anchor="start" textLength="52" lengthAdjust="spacingAndGlyphs" stroke="#65676c" stroke-width="0.3">3.2000</text>
<line x1="669" y1="492" x2="669" y2="496" stroke="#85878c" stroke-width="1"/>
<text x="669" y="508.6" font-size="16.5" fill="#6b6d72" font-weight="normal" text-anchor="middle" stroke="#65676c" stroke-width="0.3">Oct</text>
<line x1="751.4" y1="492" x2="751.4" y2="496" stroke="#85878c" stroke-width="1"/>
<text x="751.4" y="508.6" font-size="16.5" fill="#6b6d72" font-weight="normal" text-anchor="middle" stroke="#65676c" stroke-width="0.3">Dec</text>
<line x1="835.4" y1="492" x2="835.4" y2="496" stroke="#85878c" stroke-width="1"/>
<text x="835.4" y="508.6" font-size="16.5" fill="#6b6d72" font-weight="normal" text-anchor="middle" stroke="#65676c" stroke-width="0.3">Feb</text>
<line x1="909.5" y1="492" x2="909.5" y2="496" stroke="#85878c" stroke-width="1"/>
<text x="909.5" y="508.6" font-size="16.5" fill="#6b6d72" font-weight="normal" text-anchor="middle" stroke="#65676c" stroke-width="0.3">Apr</text>
<line x1="993.5" y1="492" x2="993.5" y2="496" stroke="#85878c" stroke-width="1"/>
<text x="993.5" y="508.6" font-size="16.5" fill="#6b6d72" font-weight="normal" text-anchor="middle" stroke="#65676c" stroke-width="0.3">Jun</text>
<line x1="1076.8" y1="492" x2="1076.8" y2="496" stroke="#85878c" stroke-width="1"/>
<text x="1076.8" y="508.6" font-size="16.5" fill="#6b6d72" font-weight="normal" text-anchor="middle" stroke="#65676c" stroke-width="0.3">Aug</text>
<text x="649" y="488" font-size="16.5" fill="#6b6d72" font-weight="normal" text-anchor="start" textLength="39" lengthAdjust="spacingAndGlyphs" stroke="#65676c" stroke-width="0.3">2017</text>
<text x="814.4" y="488" font-size="16.5" fill="#6b6d72" font-weight="normal" text-anchor="start" textLength="39.2" lengthAdjust="spacingAndGlyphs" stroke="#65676c" stroke-width="0.3">2018</text>
<text x="858.2" y="535" font-size="25" fill="#252830" font-weight="bold" text-anchor="start" textLength="56.8" lengthAdjust="spacingAndGlyphs">Time</text>
<text x="0" y="0" font-size="25" fill="#252830" font-weight="bold" textLength="57" lengthAdjust="spacingAndGlyphs" transform="translate(630.6,302.7) rotate(-90)">Price</text>
<g clip-path="url(#cr)">
<line x1="642.5" y1="329.2" x2="642.5" y2="394.6" stroke="#1e5a3a" stroke-width="1"/>
<rect x="639.5" y="335" width="5" height="48.30" fill="#00cc76" stroke="#10573a" stroke-width="1"/>
<line x1="651.5" y1="325" x2="651.5" y2="369" stroke="#1e5a3a" stroke-width="1"/>
<rect x="648.5" y="336.5" width="5" height="7.40" fill="#ff6760" stroke="#5e1510" stroke-width="1"/>
<line x1="660.5" y1="252.9" x2="660.5" y2="348.8" stroke="#1e5a3a" stroke-width="1"/>
<rect x="657.5" y="300.6" width="5" height="41.80" fill="#00cc76" stroke="#10573a" stroke-width="1"/>
<line x1="669.5" y1="266" x2="669.5" y2="328" stroke="#1e5a3a" stroke-width="1"/>
<line x1="666" y1="292.5" x2="672" y2="292.5" stroke="#1e5a3a" stroke-width="1"/>
<line x1="679.5" y1="270" x2="679.5" y2="342.5" stroke="#1e5a3a" stroke-width="1"/>
<rect x="676.5" y="304.2" width="5" height="38.30" fill="#ff6760" stroke="#5e1510" stroke-width="1"/>
<line x1="688.5" y1="335" x2="688.5" y2="381.9" stroke="#1e5a3a" stroke-width="1"/>
<rect x="685.5" y="338.3" width="5" height="34.30" fill="#ff6760" stroke="#5e1510" stroke-width="1"/>
<line x1="697.5" y1="325.9" x2="697.5" y2="393.6" stroke="#1e5a3a" stroke-width="1"/>
<rect x="694.5" y="350.5" width="5" height="21.00" fill="#00cc76" stroke="#10573a" stroke-width="1"/>
<line x1="707.5" y1="293.8" x2="707.5" y2="375.5" stroke="#1e5a3a" stroke-width="1"/>
<rect x="704.5" y="347" width="5" height="3.30" fill="#ff6760" stroke="#5e1510" stroke-width="1"/>
<line x1="716.5" y1="307.2" x2="716.5" y2="375.3" stroke="#1e5a3a" stroke-width="1"/>
<rect x="713.5" y="354.5" width="5" height="3.00" fill="#ff6760" stroke="#5e1510" stroke-width="1"/>
<line x1="725.5" y1="311.9" x2="725.5" y2="362.5" stroke="#1e5a3a" stroke-width="1"/>
<rect x="722.5" y="348.3" width="5" height="14.20" fill="#ff6760" stroke="#5e1510" stroke-width="1"/>
<line x1="734.5" y1="340" x2="734.5" y2="374" stroke="#1e5a3a" stroke-width="1"/>
<rect x="731.5" y="349.3" width="5" height="21.30" fill="#ff6760" stroke="#5e1510" stroke-width="1"/>
<line x1="744.5" y1="345.5" x2="744.5" y2="381.7" stroke="#1e5a3a" stroke-width="1"/>
<rect x="741.5" y="345.5" width="5" height="31.00" fill="#ff6760" stroke="#5e1510" stroke-width="1"/>
<line x1="753.5" y1="365.1" x2="753.5" y2="389" stroke="#1e5a3a" stroke-width="1"/>
<rect x="750.5" y="372.8" width="5" height="2.40" fill="#ff6760" stroke="#5e1510" stroke-width="1"/>
<line x1="762.5" y1="208.9" x2="762.5" y2="390.5" stroke="#1e5a3a" stroke-width="1"/>
<rect x="759.5" y="224.5" width="5" height="148.00" fill="#00cc76" stroke="#10573a" stroke-width="1"/>
<line x1="771.5" y1="200.1" x2="771.5" y2="377.4" stroke="#1e5a3a" stroke-width="1"/>
<rect x="768.5" y="223.4" width="5" height="154.00" fill="#ff6760" stroke="#5e1510" stroke-width="1"/>
<line x1="781.5" y1="347.3" x2="781.5" y2="388" stroke="#1e5a3a" stroke-width="1"/>
<line x1="778" y1="370.3" x2="784" y2="370.3" stroke="#1e5a3a" stroke-width="1"/>
<line x1="790.5" y1="369.3" x2="790.5" y2="469" stroke="#1e5a3a" stroke-width="1"/>
<rect x="787.5" y="369.3" width="5" height="68.90" fill="#ff6760" stroke="#5e1510" stroke-width="1"/>
<line x1="799.5" y1="394.1" x2="799.5" y2="436.7" stroke="#1e5a3a" stroke-width="1"/>
<rect x="796.5" y="421.7" width="5" height="2.60" fill="#ff6760" stroke="#5e1510" stroke-width="1"/>
<line x1="808.5" y1="414" x2="808.5" y2="443.7" stroke="#1e5a3a" stroke-width="1"/>
<rect x="805.5" y="423.9" width="5" height="2.80" fill="#ff6760" stroke="#5e1510" stroke-width="1"/>
<line x1="818.5" y1="408.9" x2="818.5" y2="450.3" stroke="#1e5a3a" stroke-width="1"/>
<rect x="815.5" y="427.8" width="5" height="2.70" fill="#ff6760" stroke="#5e1510" stroke-width="1"/>
<line x1="827.5" y1="408.9" x2="827.5" y2="441" stroke="#1e5a3a" stroke-width="1"/>
<rect x="824.5" y="419.9" width="5" height="7.30" fill="#00cc76" stroke="#10573a" stroke-width="1"/>
<line x1="836.5" y1="247.3" x2="836.5" y2="419.1" stroke="#1e5a3a" stroke-width="1"/>
<rect x="833.5" y="276.3" width="5" height="142.80" fill="#00cc76" stroke="#10573a" stroke-width="1"/>
<line x1="846.5" y1="256.1" x2="846.5" y2="367.5" stroke="#1e5a3a" stroke-width="1"/>
<rect x="843.5" y="285.1" width="5" height="50.90" fill="#ff6760" stroke="#5e1510" stroke-width="1"/>
<line x1="855.5" y1="319.8" x2="855.5" y2="368.5" stroke="#1e5a3a" stroke-width="1"/>
<rect x="852.5" y="330.5" width="5" height="10.00" fill="#ff6760" stroke="#5e1510" stroke-width="1"/>
<line x1="864.5" y1="276.1" x2="864.5" y2="354.1" stroke="#1e5a3a" stroke-width="1"/>
<rect x="861.5" y="321.3" width="5" height="10.90" fill="#00cc76" stroke="#10573a" stroke-width="1"/>
<line x1="873.5" y1="303.3" x2="873.5" y2="357.4" stroke="#1e5a3a" stroke-width="1"/>
<rect x="870.5" y="316.5" width="5" height="2.00" fill="#00cc76" stroke="#10573a" stroke-width="1"/>
<line x1="883.5" y1="273" x2="883.5" y2="342" stroke="#1e5a3a" stroke-width="1"/>
<rect x="880.5" y="287.2" width="5" height="31.70" fill="#00cc76" stroke="#10573a" stroke-width="1"/>
<line x1="892.5" y1="262.9" x2="892.5" y2="416.9" stroke="#1e5a3a" stroke-width="1"/>
<rect x="889.5" y="278.2" width="5" height="128.10" fill="#ff6760" stroke="#5e1510" stroke-width="1"/>
<line x1="901.5" y1="386" x2="901.5" y2="439" stroke="#1e5a3a" stroke-width="1"/>
<rect x="898.5" y="396.4" width="5" height="10.10" fill="#00cc76" stroke="#10573a" stroke-width="1"/>
<line x1="910.5" y1="359.2" x2="910.5" y2="406.5" stroke="#1e5a3a" stroke-width="1"/>
<rect x="907.5" y="370.7" width="5" height="13.90" fill="#00cc76" stroke="#10573a" stroke-width="1"/>
<line x1="920.5" y1="344" x2="920.5" y2="406.3" stroke="#1e5a3a" stroke-width="1"/>
<rect x="917.5" y="359.2" width="5" height="47.10" fill="#ff6760" stroke="#5e1510" stroke-width="1"/>
<line x1="929.5" y1="390.5" x2="929.5" y2="428.5" stroke="#1e5a3a" stroke-width="1"/>
<rect x="926.5" y="411.2" width="5" height="6.40" fill="#ff6760" stroke="#5e1510" stroke-width="1"/>
<line x1="938.5" y1="339.6" x2="938.5" y2="418" stroke="#1e5a3a" stroke-width="1"/>
<rect x="935.5" y="377.3" width="5" height="40.30" fill="#00cc76" stroke="#10573a" stroke-width="1"/>
<line x1="947.5" y1="255" x2="947.5" y2="376.3" stroke="#1e5a3a" stroke-width="1"/>
<rect x="944.5" y="288.4" width="5" height="87.90" fill="#00cc76" stroke="#10573a" stroke-width="1"/>
<line x1="957.5" y1="211.9" x2="957.5" y2="327.3" stroke="#1e5a3a" stroke-width="1"/>
<rect x="954.5" y="278.5" width="5" height="45.00" fill="#ff6760" stroke="#5e1510" stroke-width="1"/>
<line x1="966.5" y1="227.5" x2="966.5" y2="330.5" stroke="#1e5a3a" stroke-width="1"/>
<rect x="963.5" y="242.2" width="5" height="79.60" fill="#00cc76" stroke="#10573a" stroke-width="1"/>
<line x1="975.5" y1="236.3" x2="975.5" y2="331.9" stroke="#1e5a3a" stroke-width="1"/>
<rect x="972.5" y="251.7" width="5" height="38.80" fill="#ff6760" stroke="#5e1510" stroke-width="1"/>
<line x1="985.5" y1="240.4" x2="985.5" y2="305.3" stroke="#1e5a3a" stroke-width="1"/>
<rect x="982.5" y="283.2" width="5" height="22.10" fill="#00cc76" stroke="#10573a" stroke-width="1"/>
<line x1="994.5" y1="258.3" x2="994.5" y2="327.7" stroke="#1e5a3a" stroke-width="1"/>
<rect x="991.5" y="280.4" width="5" height="27.50" fill="#ff6760" stroke="#5e1510" stroke-width="1"/>
<line x1="1003.5" y1="233.4" x2="1003.5" y2="307.9" stroke="#1e5a3a" stroke-width="1"/>
<rect x="1000.5" y="260.2" width="5" height="47.70" fill="#00cc76" stroke="#10573a" stroke-width="1"/>
<line x1="1012.5" y1="238.9" x2="1012.5" y2="299" stroke="#1e5a3a" stroke-width="1"/>
<rect x="1009.5" y="256.3" width="5" height="36.20" fill="#ff6760" stroke="#5e1510" stroke-width="1"/>
<line x1="1022.5" y1="241.2" x2="1022.5" y2="293.5" stroke="#1e5a3a" stroke-width="1"/>
<rect x="1019.5" y="249.4" width="5" height="31.20" fill="#00cc76" stroke="#10573a" stroke-width="1"/>
<line x1="1031.5" y1="220.1" x2="1031.5" y2="266" stroke="#1e5a3a" stroke-width="1"/>
<line x1="1028" y1="254" x2="1034" y2="254" stroke="#1e5a3a" stroke-width="1"/>
<line x1="1040.5" y1="242.1" x2="1040.5" y2="294.8" stroke="#1e5a3a" stroke-width="1"/>
<rect x="1037.5" y="263.2" width="5" height="30.30" fill="#ff6760" stroke="#5e1510" stroke-width="1"/>
<line x1="1049.5" y1="258.6" x2="1049.5" y2="302.8" stroke="#1e5a3a" stroke-width="1"/>
<rect x="1046.5" y="274.2" width="5" height="10.30" fill="#00cc76" stroke="#10573a" stroke-width="1"/>
<line x1="1059.5" y1="247.6" x2="1059.5" y2="302.8" stroke="#1e5a3a" stroke-width="1"/>
<rect x="1056.5" y="267.8" width="5" height="21.70" fill="#ff6760" stroke="#5e1510" stroke-width="1"/>
<line x1="1068.5" y1="263.2" x2="1068.5" y2="303.7" stroke="#1e5a3a" stroke-width="1"/>
<rect x="1065.5" y="283.8" width="5" height="10.40" fill="#ff6760" stroke="#5e1510" stroke-width="1"/>
<line x1="1077.5" y1="252.2" x2="1077.5" y2="312.6" stroke="#1e5a3a" stroke-width="1"/>
<rect x="1074.5" y="260" width="5" height="30.60" fill="#00cc76" stroke="#10573a" stroke-width="1"/>
<line x1="1086.5" y1="130" x2="1086.5" y2="265.4" stroke="#1e5a3a" stroke-width="1"/>
<rect x="1083.5" y="182.4" width="5" height="81.20" fill="#00cc76" stroke="#10573a" stroke-width="1"/>
<line x1="1096.5" y1="155.1" x2="1096.5" y2="254.8" stroke="#1e5a3a" stroke-width="1"/>
<rect x="1093.5" y="182.7" width="5" height="41.80" fill="#ff6760" stroke="#5e1510" stroke-width="1"/>
<line x1="1105.5" y1="185" x2="1105.5" y2="256.2" stroke="#1e5a3a" stroke-width="1"/>
<rect x="1102.5" y="204.5" width="5" height="16.90" fill="#00cc76" stroke="#10573a" stroke-width="1"/>
<line x1="1114.5" y1="110.2" x2="1114.5" y2="218.6" stroke="#1e5a3a" stroke-width="1"/>
<rect x="1111.5" y="142.3" width="5" height="53.00" fill="#00cc76" stroke="#10573a" stroke-width="1"/>
<line x1="1123.5" y1="102.8" x2="1123.5" y2="188.3" stroke="#1e5a3a" stroke-width="1"/>
<rect x="1120.5" y="141.7" width="5" height="40.40" fill="#ff6760" stroke="#5e1510" stroke-width="1"/>
</g>
<line x1="637.9" y1="183" x2="1123.5" y2="183" stroke="#0c0d14" stroke-width="2" stroke-dasharray="4.6 4.52"/>
<rect x="637.8" y="59.8" width="491" height="431.2" fill="none" stroke="#252830" stroke-width="2"/>
<polygon points="1126.9,182 1134.2,171.8 1193,171.8 1193,192.3 1134.2,192.3" fill="#fff" stroke="#6b6d72" stroke-width="1.4"/>
<text x="1136" y="188.4" font-size="16.5" fill="#6b6d72" font-weight="normal" text-anchor="start" textLength="52" lengthAdjust="spacingAndGlyphs" stroke="#65676c" stroke-width="0.3">3.3106</text>
</svg></body></html>
